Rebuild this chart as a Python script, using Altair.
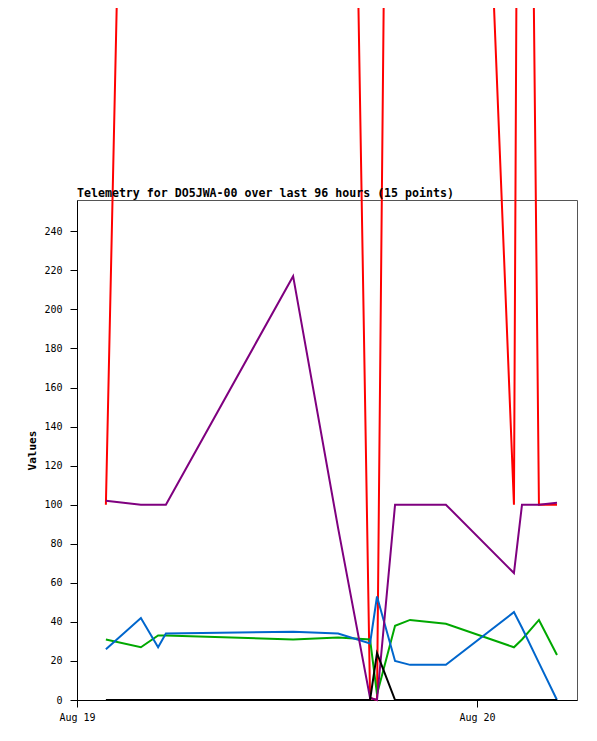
import altair as alt
import pandas as pd

# Sample times (UTC)
times = [
    "2024-08-19T01:44:00Z", "2024-08-19T03:50:00Z", "2024-08-19T04:52:00Z",
    "2024-08-19T05:20:00Z", "2024-08-19T12:58:00Z", "2024-08-19T15:40:00Z",
    "2024-08-19T17:35:00Z", "2024-08-19T18:00:00Z", "2024-08-19T19:05:00Z",
    "2024-08-19T19:59:00Z", "2024-08-19T22:08:00Z", "2024-08-20T02:13:00Z",
    "2024-08-20T02:42:00Z", "2024-08-20T03:43:00Z", "2024-08-20T04:48:00Z",
]

ch_red = [100, 925, 940, 950, 965, 975, 1, 0, 962, 965, 970, 100, 950, 100, 100]
ch_green = [31, 27, 33, 33, 31, 32, 31, 3, 38, 41, 39, 27, 31, 41, 23]
ch_blue = [26, 42, 27, 34, 35, 34, 29, 53, 20, 18, 18, 45, 37, 19, 0]
ch_purple = [102, 100, 100, 100, 217, 88, 1, 0, 100, 100, 100, 65, 100, 100, 101]
ch_black = [0, 0, 0, 0, 0, 0, 0, 24, 0, 0, 0, 0, 0, 0, 0]

series_names = ["A1", "A2", "A3", "A4", "A5"]
series_values = [ch_red, ch_green, ch_blue, ch_purple, ch_black]
series_colors = ["#ff0000", "#00a800", "#0066cc", "#7f007f", "#000000"]

y_ticks = list(range(0, 241, 20))
title_text = "Telemetry for DO5JWA-00 over last 96 hours (15 points)"

rows = []
for name, vals in zip(series_names, series_values):
    for t, v in zip(times, vals):
        rows.append({"time": t, "value": v, "series": name})
df = pd.DataFrame(rows)

x_start = alt.DateTime(year=2024, month=8, date=19, utc=True)
x_mid = alt.DateTime(year=2024, month=8, date=20, utc=True)
x_end = alt.DateTime(year=2024, month=8, date=20, hours=6, utc=True)

x_enc = alt.X(
    "time:T",
    scale=alt.Scale(type="utc", domain=[x_start, x_end]),
    axis=alt.Axis(
        values=[x_start, x_mid],
        labelExpr="monthAbbrevFormat(utcmonth(datum.value)) + ' ' + utcdate(datum.value)",
        title=None, labelFlush=False, labelOverlap=False, tickSize=7,
        labelPadding=5, grid=False,
    ),
)
y_enc = alt.Y(
    "value:Q",
    scale=alt.Scale(domain=[0, 256], nice=False, zero=True),
    axis=alt.Axis(
        values=y_ticks, title="Values", grid=False, tickSize=7, labelPadding=8,
        titlePadding=6,
    ),
)

base = alt.Chart(df)
layers = []
for name, color in zip(series_names, series_colors):
    layers.append(
        base.transform_filter(alt.datum.series == name)
        .mark_line(color=color, strokeWidth=2, clip=False)
        .encode(x=x_enc, y=y_enc)
    )

title_layer = (
    alt.Chart(pd.DataFrame({"label": [title_text]}))
    .mark_text(
        align="left", baseline="alphabetic", font="DejaVu Sans Mono",
        fontSize=11.6, fontWeight="bold", color="#000000",
    )
    .encode(x=alt.value(0), y=alt.value(-3), text="label:N")
)

chart = (
    alt.layer(*layers, title_layer)
    .properties(
        width=500,
        height=500,
        autosize=alt.AutoSizeParams(type="none"),
        padding={"left": 69, "top": 192, "right": 10, "bottom": 30},
    )
    .configure_view(stroke="#555555", strokeWidth=1)
    .configure_axis(
        domainColor="#000000", tickColor="#000000", labelColor="#000000",
        labelFont="DejaVu Sans Mono", labelFontSize=10,
        titleFont="DejaVu Sans Mono", titleFontSize=11, titleFontWeight="bold",
        titleColor="#000000", domainWidth=1, tickWidth=1,
    )
)

chart.save("out.html", embed_options={"renderer": "svg", "actions": False})
